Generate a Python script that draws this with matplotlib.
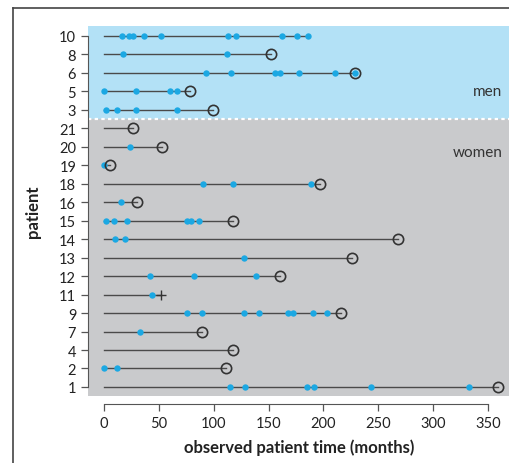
import matplotlib
matplotlib.use("Agg")
import matplotlib.pyplot as plt
from matplotlib.lines import Line2D

plt.rcParams['font.family'] = ['Lato', 'DejaVu Sans']

# patients listed top to bottom
patients = [10, 8, 6, 5, 3, 21, 20, 19, 18, 16, 15, 14, 13, 12, 11, 9, 7, 4, 2, 1]
n_men = 5

# end of observation (months) and how it ended: 'o' censored, '+' other, '' last event
end_time = [185.7, 152, 229, 78, 99.6, 26.7, 52.6, 5, 197, 30, 117.6, 267.7, 226,
            160, 51.7, 215.7, 89.6, 117.3, 111, 359]
end_mark = ['', 'o', 'o', 'o', 'o', 'o', 'o', 'o', 'o', 'o', 'o', 'o', 'o',
            'o', '+', 'o', 'o', 'o', 'o', 'o']

# event times (months)
events = [
    [16, 23, 26.5, 36.6, 52, 113, 120, 162.5, 175.6, 185.7],
    [17.6, 112],
    [93, 116, 156, 160, 178, 210.6, 229],
    [0, 29.5, 60.5, 66.8],
    [1.8, 11.5, 29.5, 66.8],
    [],
    [24],
    [0],
    [90, 117.6, 189],
    [15.5],
    [1.8, 9, 21, 76, 79, 87],
    [10, 19],
    [127.6],
    [42, 82, 138.5],
    [43.5],
    [75.7, 89.6, 128, 141, 167.4, 172.3, 190.5, 203.6],
    [33],
    [],
    [0, 12],
    [114.9, 128.5, 185.3, 191, 243, 333],
]

fig = plt.figure(figsize=(5.10, 4.64), dpi=100)
ax = fig.add_axes([88 / 510, 1 - 397 / 464, 1 - 88 / 510, 370 / 464])

n = len(patients)
ypos = [n - 1 - i for i in range(n)]

ax.set_xlim(-14.6, 370)
ax.set_ylim(-0.49, n - 0.46)

# group backgrounds
ax.axhspan(n - n_men - 0.5, n, color='#b3e1f6', zorder=0)
ax.axhspan(-1, n - n_men - 0.5, color='#c9cacc', zorder=0)
ax.axhline(n - n_men - 0.5, color='white', lw=1.6, ls=(0, (1.5, 1.5)), zorder=1)

for y, t, m, ev in zip(ypos, end_time, end_mark, events):
    ax.plot([0, t], [y, y], color='#4a4a4a', lw=1.0, zorder=2)
    if ev:
        ax.plot(ev, [y] * len(ev), 'o', color='#1ba8e3', ms=4.6, mec='none', zorder=3)
    if m == 'o':
        ax.plot(t, y, 'o', mfc='none', mec='#333333', mew=1.2, ms=7.4, zorder=4)
    elif m == '+':
        ax.plot(t, y, '+', color='#333333', mew=1.0, ms=7, zorder=4)

ax.text(363, 16.0, 'men', ha='right', va='center', fontsize=11, color='#333333')
ax.text(363, 12.7, 'women', ha='right', va='center', fontsize=11, color='#333333')

ax.set_yticks(ypos)
ax.set_yticklabels([str(p) for p in patients])
ax.set_xticks([0, 50, 100, 150, 200, 250, 300, 350])

for s in ['top', 'right']:
    ax.spines[s].set_visible(False)
ax.spines['left'].set_bounds(0, n - 1)
ax.spines['bottom'].set_bounds(0, 350)
ax.spines['bottom'].set_position(('outward', 6))
ax.spines['left'].set_color('#555555')
ax.spines['bottom'].set_color('#555555')
ax.tick_params(colors='#555555', labelcolor='#222222', labelsize=10.5, length=5, width=0.9)

ax.set_xlabel('observed patient time (months)', fontsize=12, fontweight='bold',
              color='#222222', labelpad=6)
ax.set_ylabel('patient', fontsize=12, fontweight='bold', color='#222222', labelpad=13)

# panel frame
fig.add_artist(Line2D([13 / 510, 1], [1 - 9 / 464, 1 - 9 / 464], color='#444444', lw=1.2))
fig.add_artist(Line2D([13 / 510, 13 / 510], [0, 1 - 9 / 464], color='#444444', lw=1.2))

fig.savefig('out.png', dpi=100)
